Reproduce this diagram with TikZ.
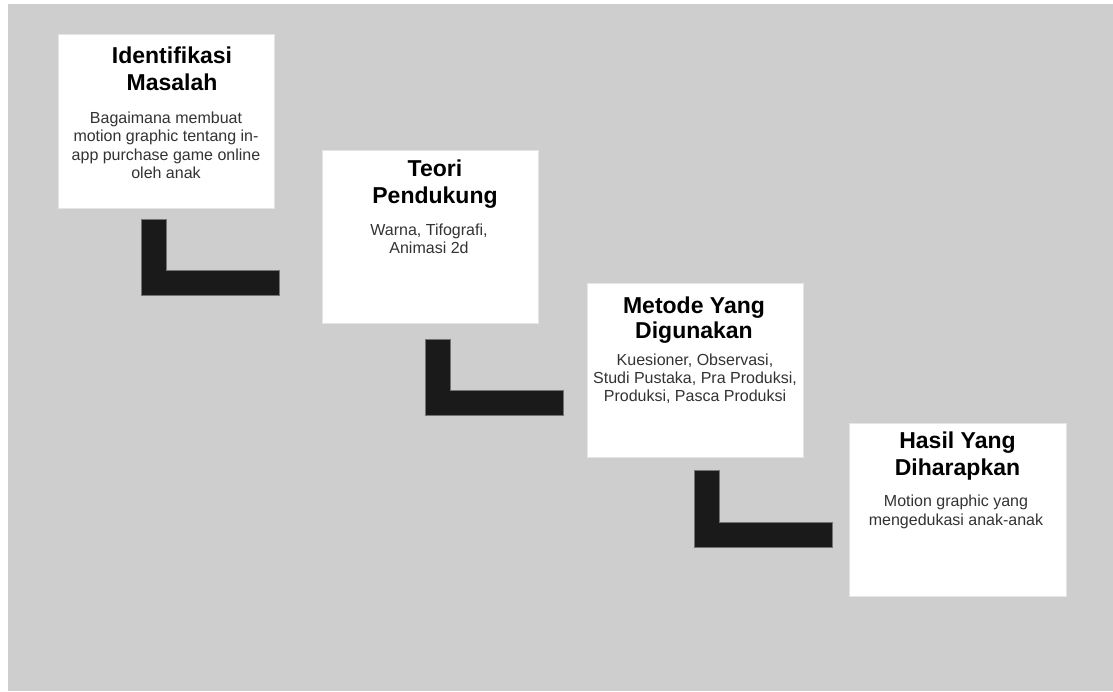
\documentclass[tikz,border=0pt]{standalone}
\usepackage{fontspec}
\setmainfont{Liberation Sans}
\definecolor{bggray}{HTML}{CECECE}
\definecolor{lblack}{HTML}{1A1A1A}
\definecolor{bodytxt}{HTML}{333333}
\tikzset{
  card/.style={draw=black!10, line width=0.8pt, fill=white, inner sep=0},
  ttl/.style={anchor=base, inner sep=0, text=black, font=\bfseries\fontsize{23}{26.7}\selectfont},
  bdy/.style={anchor=base, inner sep=0, text=bodytxt, font=\fontsize{16}{18.3}\selectfont},
  elbow/.style={fill=lblack, draw=black!55, line width=0.8pt}
}
\begin{document}
\begin{tikzpicture}[x=1pt,y=-1pt]
\useasboundingbox (0,0) rectangle (1113,691);
\fill[bggray] (8,4) rectangle (1113,691);

% cards
\draw[card] (58,34) rectangle (274,208) coordinate (c1);
\draw[card] (322,150) rectangle (538,323) coordinate (c2);
\draw[card] (587,283) rectangle (803,457) coordinate (c3);
\draw[card] (849,423) rectangle (1066,596) coordinate (c4);

% elbows
\draw[elbow] (141,219) -- (166,219) -- (166,270) -- (279,270) -- (279,295) -- (141,295) -- cycle;
\draw[elbow] (425,339) -- (450,339) -- (450,390) -- (563,390) -- (563,415) -- (425,415) -- cycle;
\draw[elbow] (694,470) -- (719,470) -- (719,522) -- (832,522) -- (832,547) -- (694,547) -- cycle;

% card 1
\node[ttl] (t1a) at (172,63.3) {Identifikasi};
\node[ttl] (t1b) at (172,90) {Masalah};
\node[bdy] (b1a) at (166,123.3) {Bagaimana membuat};
\node[bdy] (b1b) at (166,141.7) {motion graphic tentang in-};
\node[bdy] (b1c) at (166,160) {app purchase game online};
\node[bdy] (b1d) at (166,178.3) {oleh anak};

% card 2
\node[ttl] (t2a) at (435,176.7) {Teori};
\node[ttl] (t2b) at (435,203.3) {Pendukung};
\node[bdy] (b2a) at (429,235) {Warna, Tifografi,};
\node[bdy] (b2b) at (429,253.3) {Animasi 2d};

% card 3
\node[ttl] (t3a) at (694,313.3) {Metode Yang};
\node[ttl] (t3b) at (694,338.3) {Digunakan};
\node[bdy] (b3a) at (695,365) {Kuesioner, Observasi,};
\node[bdy] (b3b) at (695,383.3) {Studi Pustaka, Pra Produksi,};
\node[bdy] (b3c) at (695,401.7) {Produksi, Pasca Produksi};

% card 4
\node[ttl] (t4a) at (957.5,448.3) {Hasil Yang};
\node[ttl] (t4b) at (957.5,475) {Diharapkan};
\node[bdy] (b4a) at (956,506.7) {Motion graphic yang};
\node[bdy] (b4b) at (956,525) {mengedukasi anak-anak};
\end{tikzpicture}
\end{document}
